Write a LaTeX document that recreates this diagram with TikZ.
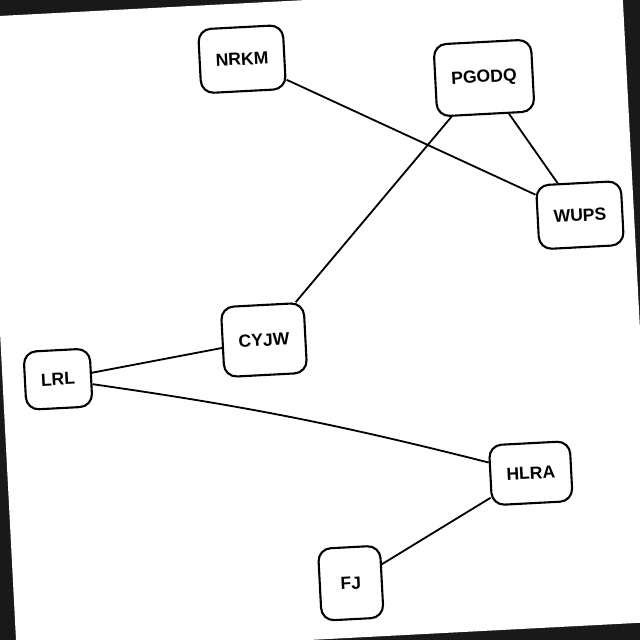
\documentclass[tikz,border=0pt]{standalone}
\usepackage{fontspec}
\setsansfont{Liberation Sans}

\begin{document}
\begin{tikzpicture}[thick,
    box/.style={draw, line width=1.5pt, rounded corners=9pt, rotate=3,
      minimum height=1.6cm, inner xsep=0.4cm,
      font=\sffamily\bfseries\fontsize{12.5}{14}\selectfont},
    link/.style={line width=1.3pt}]
  \useasboundingbox (0,0) rectangle (16,16);
  % tilted sheet on a dark scan background
  \fill[black!90] (0,0) rectangle (16,16);
  \fill[white] (-0.41,15.58) -- (15.55,16.41) -- (16.38,0.45) -- (0.42,-0.38) -- cycle;

  \coordinate (nrkm) at (6.05, 14.52);
  \coordinate (pgodq) at (12.1, 14.05);
  \coordinate (wups) at (14.5, 10.62);
  \coordinate (cyjw) at (6.6, 7.5);
  \coordinate (lrl) at (1.45, 6.52);
  \coordinate (hlra) at (13.27, 4.17);
  \coordinate (fj) at (8.77, 1.42);

  \node[box] (NRKM) at (nrkm) {NRKM};
  \node[box, minimum height=1.8cm] (PGODQ) at (pgodq) {PGODQ};
  \node[box] (WUPS) at (wups) {WUPS};
  \node[box, minimum height=1.75cm] (CYJW) at (cyjw) {CYJW};
  \node[box, minimum height=1.45cm] (LRL) at (lrl) {LRL};
  \node[box, minimum height=1.5cm] (HLRA) at (hlra) {HLRA};
  \node[box, minimum height=1.8cm, minimum width=1.55cm] (FJ) at (fj) {FJ};

  \draw[link] (NRKM) -- (WUPS);
  \draw[link] (PGODQ) -- (WUPS);
  \draw[link] (PGODQ) -- (CYJW);
  \draw[link] (CYJW) -- (LRL);
  \draw[link] (LRL) to[bend left=3] (HLRA);
  \draw[link] (HLRA) -- (FJ);
\end{tikzpicture}
\end{document}
